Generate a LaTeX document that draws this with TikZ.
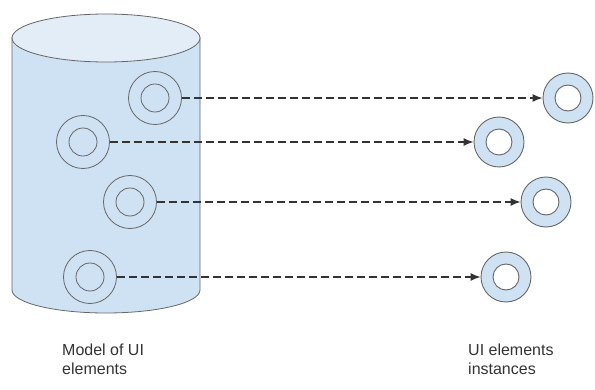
\documentclass[tikz,border=0pt]{standalone}
\usepackage{fontspec}
\setmainfont{Liberation Sans}
\usetikzlibrary{arrows.meta}
\definecolor{cylfill}{HTML}{CFE2F3}
\definecolor{cyltop}{HTML}{E2EDF8}
\definecolor{edge}{HTML}{666666}
\definecolor{ink}{HTML}{333333}
\begin{document}
\begin{tikzpicture}[x=1pt,y=1pt,
  ringout/.style={circle, draw=edge, line width=0.8pt, minimum size=53pt, inner sep=0pt},
  ringin/.style={circle, draw=edge, line width=0.8pt, minimum size=28pt, inner sep=0pt},
  instout/.style={circle, draw=edge, line width=0.9pt, fill=cylfill, minimum size=50pt, inner sep=0pt},
  instin/.style={circle, draw=edge, line width=0.9pt, fill=white, minimum size=26pt, inner sep=0pt},
  conn/.style={draw=ink, line width=1.3pt, dash pattern=on 8pt off 4pt,
    -{Latex[length=10pt,width=8pt]}},
  caption/.style={anchor=north west, align=left, inner sep=0pt, text=ink,
    font=\fontsize{16}{18.5}\selectfont}]
\useasboundingbox (0,0) rectangle (595,389);

% model store: cylinder body and top
\draw[edge, line width=0.8pt, fill=cylfill]
  (12,351) -- (12,99) arc[start angle=180, end angle=360, x radius=94pt, y radius=23pt]
  -- (200,351) -- cycle;
\draw[edge, line width=0.8pt, fill=cyltop] (106,351) ellipse [x radius=94pt, y radius=24pt];

% model elements inside the store
\node[ringout] (a1) at (155,291) {};
\node[ringin]  (a1i) at (155,291) {};
\node[ringout] (a2) at (83,247) {};
\node[ringin]  (a2i) at (83,247) {};
\node[ringout] (a3) at (130,187) {};
\node[ringin]  (a3i) at (130,187) {};
\node[ringout] (a4) at (90,112) {};
\node[ringin]  (a4i) at (90,112) {};

% element instances
\node[instout] (b1) at (568,291) {};
\node[instin]  (b1i) at (568,291) {};
\node[instout] (b2) at (499,247) {};
\node[instin]  (b2i) at (499,247) {};
\node[instout] (b3) at (546,187) {};
\node[instin]  (b3i) at (546,187) {};
\node[instout] (b4) at (506,112) {};
\node[instin]  (b4i) at (506,112) {};

% instantiation links
\draw[conn] (a1) -- (b1);
\draw[conn] (a2) -- (b2);
\draw[conn] (a3) -- (b3);
\draw[conn] (a4) -- (b4);

% captions
\node[caption] (capl) at (62,45) {Model of UI\\elements};
\node[caption] (capr) at (468,45) {UI elements\\instances};
\end{tikzpicture}
\end{document}
